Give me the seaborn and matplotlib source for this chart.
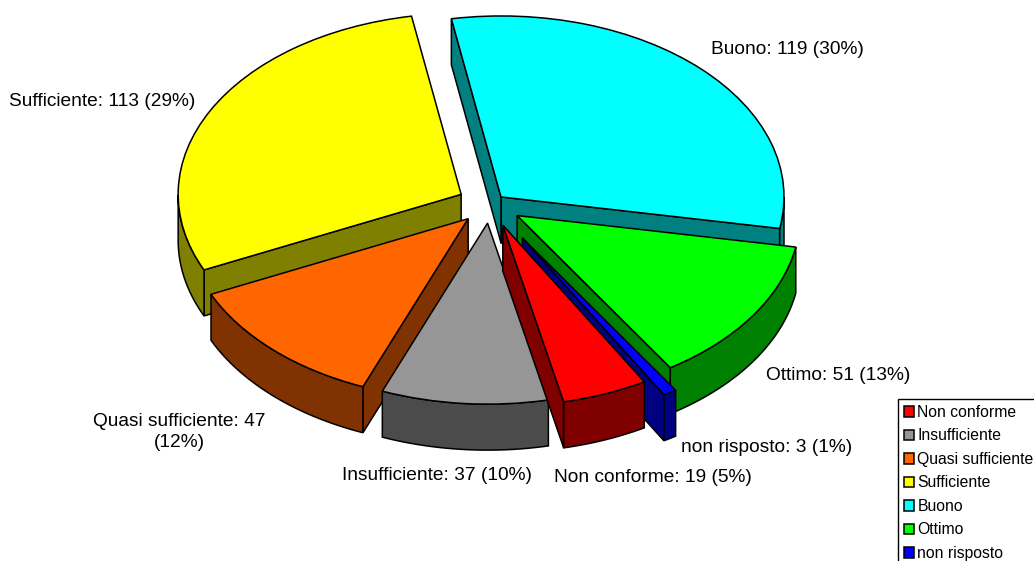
import numpy as np
import matplotlib
matplotlib.use("Agg")
import matplotlib.pyplot as plt
import seaborn as sns

# order as in the legend, clockwise on the pie
categories = ["Non conforme", "Insufficiente", "Quasi sufficiente", "Sufficiente", "Buono", "Ottimo", "non risposto"]
values = [19, 37, 47, 113, 119, 51, 3]
percents = [5, 10, 12, 29, 30, 13, 1]
explode = [0.125, 0.106, 0.112, 0.115, 0.055, 0.115, 0.22]
top_colors = ["#ff0000", "#969696", "#ff6600", "#ffff00", "#00ffff", "#00ff00", "#0000ff"]
side_colors = ["#800000", "#4b4b4b", "#803300", "#808000", "#008080", "#008000", "#000080"]
draw_rank = [7, 6, 4, 2, 1, 3, 5]

W, H = 1034, 561
CX, CY = 490, 204      # pie centre in pixels
RX, RY = 283, 181      # ellipse radii in pixels
DEPTH = 46 / RY

sns.set_theme(style="white")
plt.rcParams["font.family"] = ["Liberation Sans", "DejaVu Sans"]

fig = plt.figure(figsize=(W / 100, H / 100), dpi=100)
ax = fig.add_axes([0, 0, 1, 1])

wedges, _ = ax.pie(values, explode=explode, colors=sns.color_palette(top_colors),
                   startangle=-60, counterclock=False,
                   wedgeprops={"edgecolor": "black", "linewidth": 1.1})
ax.set_aspect("auto")
ax.set_xlim(-CX / RX, (W - CX) / RX)
ax.set_ylim((CY - H) / RY, CY / RY)

line = {"edgecolor": "black", "linewidth": 1.1}

for w, side, rank in zip(wedges, side_colors, draw_rank):
    w.set_zorder(rank + 0.5)
    x0, y0 = w.center
    # cut faces, only those turned towards the viewer
    for th, normal in [(w.theta1, w.theta1 - 90), (w.theta2, w.theta2 + 90)]:
        if np.sin(np.radians(normal)) >= 0:
            continue
        px = x0 + np.cos(np.radians(th))
        py = y0 + np.sin(np.radians(th))
        ax.fill([x0, px, px, x0], [y0, py, py - DEPTH, y0 - DEPTH],
                facecolor=side, zorder=rank + 0.1, **line)
    # outer rim, only the part facing the viewer
    th = np.radians(np.linspace(w.theta1, w.theta2, 300))
    th = th[np.sin(th) <= 0]
    if len(th) > 1:
        ax_x = x0 + np.cos(th)
        ax_y = y0 + np.sin(th)
        ax.fill(np.r_[ax_x, ax_x[::-1]], np.r_[ax_y, ax_y[::-1] - DEPTH],
                facecolor=side, zorder=rank + 0.2, **line)

labels = [f"{c}: {v} ({p}%)" for c, v, p in zip(categories, values, percents)]
labels[2] = labels[2].replace(" (", "\n(")
label_pos = [(653, 477), (437, 476), (179, 432), (102, 101), (787, 50), (838, 375), (767, 447)]
for txt, (px, py) in zip(labels, label_pos):
    ax.text((px - CX) / RX, (CY - py) / RY, txt, fontsize=13.8, color="black",
            ha="center", va="center", linespacing=1.35, zorder=20)

leg = ax.legend(wedges, categories, loc="upper left", bbox_to_anchor=(898 / W, 1 - 399 / H),
                bbox_transform=fig.transFigure, borderaxespad=0, fontsize=11.3,
                fancybox=False, framealpha=1, edgecolor="black", labelspacing=0.54,
                handlelength=0.65, handleheight=0.65, handletextpad=0.2, borderpad=0.38,
                labelcolor="black")
leg.get_frame().set_linewidth(1.0)
leg.set_zorder(30)

fig.savefig("out.png", dpi=100)
